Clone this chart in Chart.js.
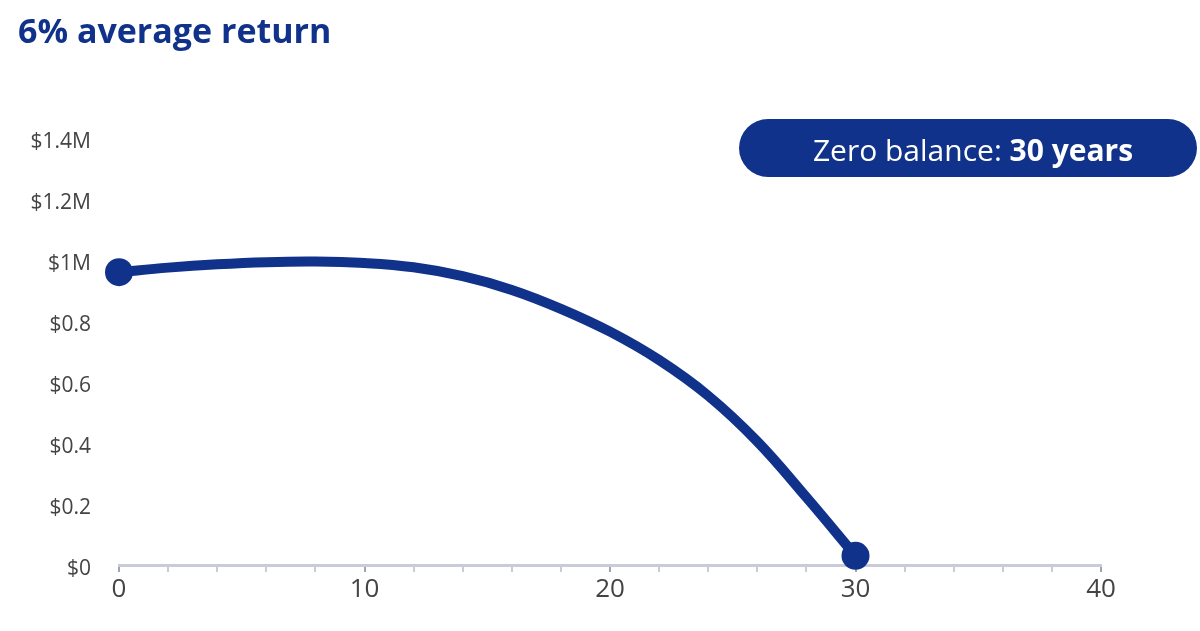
<!DOCTYPE html>
<html>
<head>
<meta charset="utf-8">
<script src="https://cdn.jsdelivr.net/npm/chart.js@4.4.1/dist/chart.umd.min.js"></script>
<style>
  html, body { margin: 0; padding: 0; background: #fff; }
  #chart { display: block; }
</style>
</head>
<body>
<canvas id="chart" width="1200" height="631"></canvas>
<script>
// years since retirement and the remaining balance (in $M)
const years = [0, 2, 4, 6, 8, 10, 12, 14, 16, 18, 20, 22, 24, 26, 28, 30];
const balance = [0.96, 0.975, 0.986, 0.993, 0.995, 0.99, 0.976, 0.947, 0.902, 0.84, 0.765, 0.672, 0.555, 0.405, 0.222, 0.03];
const yTicks = [0, 0.2, 0.4, 0.6, 0.8, 1, 1.2, 1.4];
const titleText = "6% average return";
const badgeLabel = "Zero balance: ";
const badgeValue = "30 years";

const navy = "#10328a";

// title and the "zero balance" pill
const overlay = {
  id: "overlay",
  afterDraw(chart) {
    const ctx = chart.ctx;
    ctx.save();
    ctx.fillStyle = navy;
    ctx.font = "bold 34px 'Open Sans'";
    ctx.textBaseline = "alphabetic";
    ctx.textAlign = "left";
    ctx.fillText(titleText, 18, 43);

    const bx = 739, by = 119, bw = 458, bh = 58;
    ctx.beginPath();
    ctx.roundRect(bx, by, bw, bh, bh / 2);
    ctx.fill();

    ctx.fillStyle = "#fff";
    ctx.font = "30px 'Open Sans'";
    const w1 = ctx.measureText(badgeLabel).width;
    ctx.font = "bold 30px 'Open Sans'";
    const w2 = ctx.measureText(badgeValue).width;
    const x = bx + bw / 2 - (w1 + w2) / 2 + 5;
    ctx.font = "30px 'Open Sans'";
    ctx.fillText(badgeLabel, x, 161);
    ctx.font = "bold 30px 'Open Sans'";
    ctx.fillText(badgeValue, x + w1, 161);
    ctx.restore();
  }
};

new Chart(document.getElementById("chart"), {
  type: "line",
  data: {
    datasets: [
      {
        data: years.map((y, i) => ({ x: y, y: balance[i] })),
        borderColor: navy,
        backgroundColor: navy,
        borderWidth: 10,
        borderCapStyle: "round",
        tension: 0.4,
        pointRadius: (c) => (c.dataIndex === 0 || c.dataIndex === years.length - 1 ? 14 : 0),
        pointBorderWidth: 0,
        clip: false,
      },
    ],
  },
  options: {
    responsive: false,
    animation: false,
    layout: { padding: { top: 138, right: 99, left: 0, bottom: 0 } },
    plugins: { legend: { display: false }, tooltip: { enabled: false } },
    scales: {
      x: {
        type: "linear",
        min: 0,
        max: 40,
        afterFit: (s) => { s.height = 66; },
        border: { color: "#c9ccd8", width: 3 },
        grid: {
          drawOnChartArea: false,
          drawTicks: true,
          tickLength: 7,
          lineWidth: 2,
          color: (c) => (c.tick && c.tick.value % 10 === 0 ? "#9ea3b5" : "#c9ccd8"),
        },
        ticks: {
          stepSize: 2,
          autoSkip: false,
          maxRotation: 0,
          padding: 2,
          color: "#444",
          font: { family: "Open Sans", size: 26 },
          callback: (v) => (v % 10 === 0 ? v : ""),
        },
      },
      y: {
        min: 0,
        max: 1.4,
        afterFit: (s) => { s.width = 119; },
        afterBuildTicks: (s) => { s.ticks = yTicks.map((v) => ({ value: v })); },
        border: { display: false },
        grid: { display: false },
        ticks: {
          padding: 20,
          labelOffset: 4,
          color: "#444",
          font: { family: "Open Sans", size: 21 },
          callback: (v) => {
            const r = Math.round(v * 10) / 10;
            if (r === 0) return "$0";
            return r >= 1 ? "$" + r + "M" : "$" + r;
          },
        },
      },
    },
  },
  plugins: [overlay],
});
</script>
</body>
</html>
